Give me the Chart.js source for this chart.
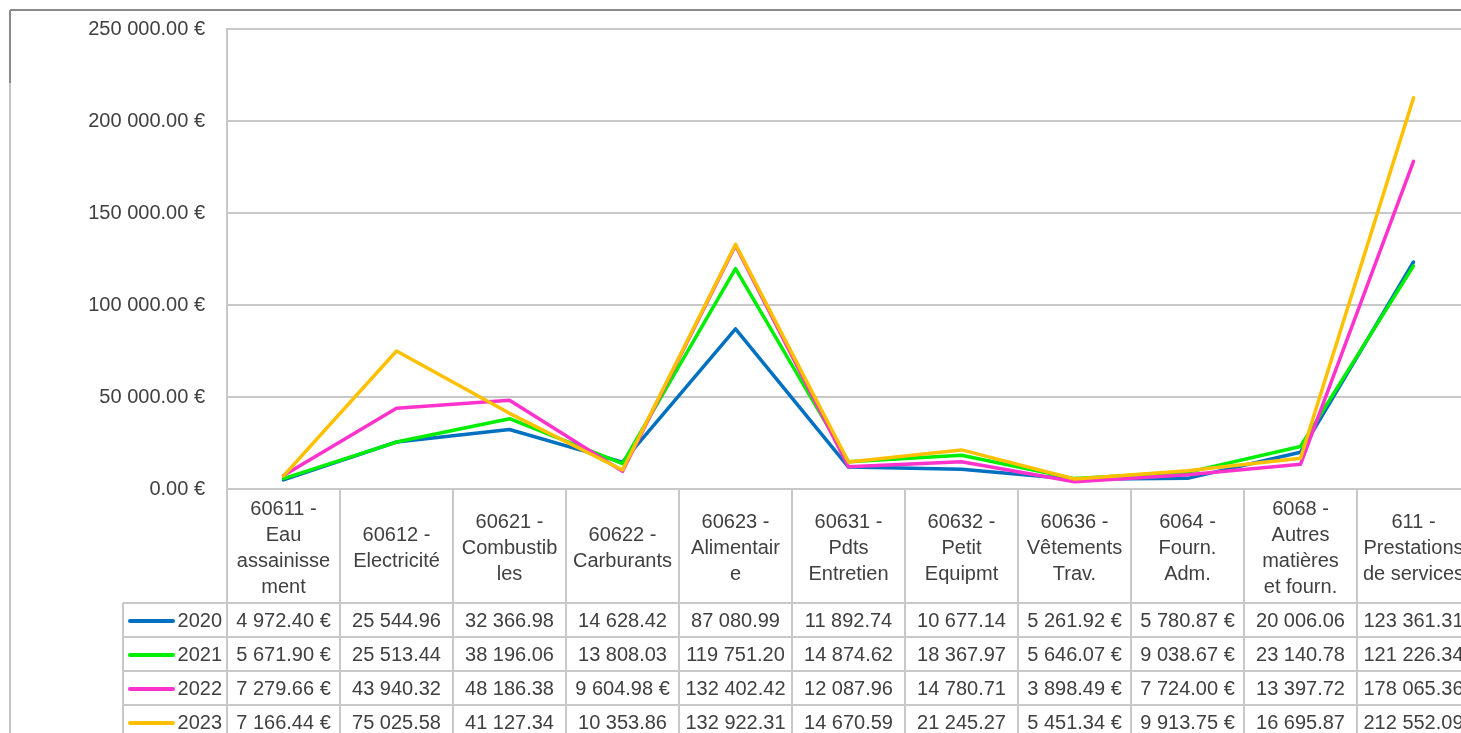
<!DOCTYPE html>
<html><head><meta charset="utf-8">
<script src="https://cdn.jsdelivr.net/npm/chart.js@4/dist/chart.umd.min.js"></script>
<style>html,body{margin:0;padding:0;overflow:hidden;background:#fff}#wrap{width:1472px;height:745px}</style>
</head><body><div id="wrap"><canvas id="c" width="1472" height="745"></canvas></div>
<script>
const categories = [
  ['60611 -','Eau','assainisse','ment'],
  ['60612 -','Electricité'],
  ['60621 -','Combustib','les'],
  ['60622 -','Carburants'],
  ['60623 -','Alimentair','e'],
  ['60631 -','Pdts','Entretien'],
  ['60632 -','Petit','Equipmt'],
  ['60636 -','Vêtements','Trav.'],
  ['6064 -','Fourn.','Adm.'],
  ['6068 -','Autres','matières','et fourn.'],
  ['611 -','Prestations','de services']
];
const years = ['2020','2021','2022','2023'];
const values2020 = [4972.40, 25544.96, 32366.98, 14628.42, 87080.99, 11892.74, 10677.14, 5261.92, 5780.87, 20006.06, 123361.31];
const values2021 = [5671.90, 25513.44, 38196.06, 13808.03, 119751.20, 14874.62, 18367.97, 5646.07, 9038.67, 23140.78, 121226.34];
const values2022 = [7279.66, 43940.32, 48186.38, 9604.98, 132402.42, 12087.96, 14780.71, 3898.49, 7724.00, 13397.72, 178065.36];
const values2023 = [7166.44, 75025.58, 41127.34, 10353.86, 132922.31, 14670.59, 21245.27, 5451.34, 9913.75, 16695.87, 212552.09];
const yTickValues = [0, 50000, 100000, 150000, 200000, 250000];

const seriesValues = [values2020, values2021, values2022, values2023];
const seriesColors = ['#0070C0', '#00EE00', '#FF33CC', '#FFC000'];
const FONT = "'Liberation Sans', Arial, sans-serif";
const TEXT = '#404040';
const GRID = '#c8c8c8';
const H = 745;
const PLOT_BOTTOM = 489;
const HEADER_H = 114;
const ROW_H = 34;
const LEGEND_W = 104;

function fmtNum(v) {
  const s = v.toFixed(2);
  const [ip, dp] = s.split('.');
  return ip.replace(/\B(?=(\d{3})+(?!\d))/g, ' ') + '.' + dp;
}
function fmtEuro(v) { return fmtNum(v) + ' €'; }
function fmtCell(v) { return v < 10000 ? fmtEuro(v) : fmtNum(v); }

const framePlugin = {
  id: 'frame',
  beforeDraw(chart) {
    const ctx = chart.ctx;
    ctx.save();
    ctx.fillStyle = '#fff';
    ctx.fillRect(0, 0, chart.width, chart.height);
    ctx.lineWidth = 2;
    ctx.strokeStyle = '#8a8a8a';
    ctx.beginPath();
    ctx.moveTo(10, 10); ctx.lineTo(chart.width, 10);
    ctx.moveTo(10, 10); ctx.lineTo(10, 83);
    ctx.stroke();
    ctx.strokeStyle = '#c4c4c4';
    ctx.beginPath();
    ctx.moveTo(10, 83); ctx.lineTo(10, chart.height);
    ctx.stroke();
    ctx.restore();
  }
};

const tablePlugin = {
  id: 'dataTable',
  afterDraw(chart) {
    const ctx = chart.ctx;
    const xs = chart.scales.x;
    const area = chart.chartArea;
    const colW = xs.getPixelForValue(1) - xs.getPixelForValue(0);
    const top = area.bottom;
    const tableTop = top + HEADER_H;
    const bottom = chart.height;
    ctx.save();
    ctx.strokeStyle = GRID;
    ctx.lineWidth = 2;
    ctx.beginPath();
    for (let i = 0; i <= categories.length; i++) {
      const x = Math.round(xs.getPixelForValue(0) - colW / 2 + i * colW);
      ctx.moveTo(x, top); ctx.lineTo(x, bottom);
    }
    const legLeft = area.left - LEGEND_W;
    ctx.moveTo(legLeft, tableTop); ctx.lineTo(legLeft, bottom);
    for (let r = 0; r <= years.length; r++) {
      const y = tableTop + r * ROW_H;
      ctx.moveTo(legLeft, y); ctx.lineTo(chart.width, y);
    }
    ctx.stroke();

    ctx.font = '20px ' + FONT;
    ctx.fillStyle = TEXT;
    ctx.textBaseline = 'middle';
    for (let r = 0; r < years.length; r++) {
      const cy = tableTop + r * ROW_H + ROW_H / 2 + 1;
      ctx.strokeStyle = seriesColors[r];
      ctx.lineWidth = 4;
      ctx.lineCap = 'round';
      ctx.beginPath();
      ctx.moveTo(legLeft + 7, cy); ctx.lineTo(legLeft + 50, cy);
      ctx.stroke();
      ctx.textAlign = 'right';
      ctx.fillText(years[r], area.left - 5, cy);
      ctx.textAlign = 'center';
      const vals = seriesValues[r];
      for (let i = 0; i < vals.length; i++) {
        ctx.fillText(fmtCell(vals[i]), xs.getPixelForValue(i), cy);
      }
    }
    ctx.restore();
  }
};

new Chart(document.getElementById('c'), {
  type: 'line',
  data: {
    labels: categories,
    datasets: years.map((y, i) => ({
      label: y,
      data: seriesValues[i],
      borderColor: seriesColors[i],
      backgroundColor: seriesColors[i],
      borderWidth: 3.5,
      pointRadius: 0,
      tension: 0,
      fill: false,
      order: years.length - 1 - i,
      borderJoinStyle: 'round',
      borderCapStyle: 'round'
    }))
  },
  options: {
    responsive: false,
    animation: false,
    devicePixelRatio: 1,
    layout: { padding: { top: 29, left: 0, right: 2, bottom: 0 } },
    plugins: { legend: { display: false }, tooltip: { enabled: false } },
    scales: {
      y: {
        min: 0, max: 250000,
        afterBuildTicks: s => { s.ticks = yTickValues.map(v => ({ value: v })); },
        afterFit: s => { s.width = 227; s.paddingTop = 0; s.paddingBottom = 0; },
        ticks: { callback: v => fmtEuro(v), font: { family: FONT, size: 20 }, color: TEXT, padding: 22 },
        grid: { color: GRID, lineWidth: 2, drawTicks: false },
        border: { display: true, color: GRID, width: 2 }
      },
      x: {
        offset: true,
        afterFit: s => { s.height = H - PLOT_BOTTOM; s.paddingLeft = 0; s.paddingRight = 0; },
        grid: { display: false },
        border: { display: true, color: GRID, width: 2 },
        ticks: {
          autoSkip: false, maxRotation: 0, minRotation: 0,
          font: { family: FONT, size: 20, lineHeight: 1.3 },
          color: TEXT, crossAlign: 'center', padding: 12
        }
      }
    }
  },
  plugins: [framePlugin, tablePlugin]
});
</script></body></html>
